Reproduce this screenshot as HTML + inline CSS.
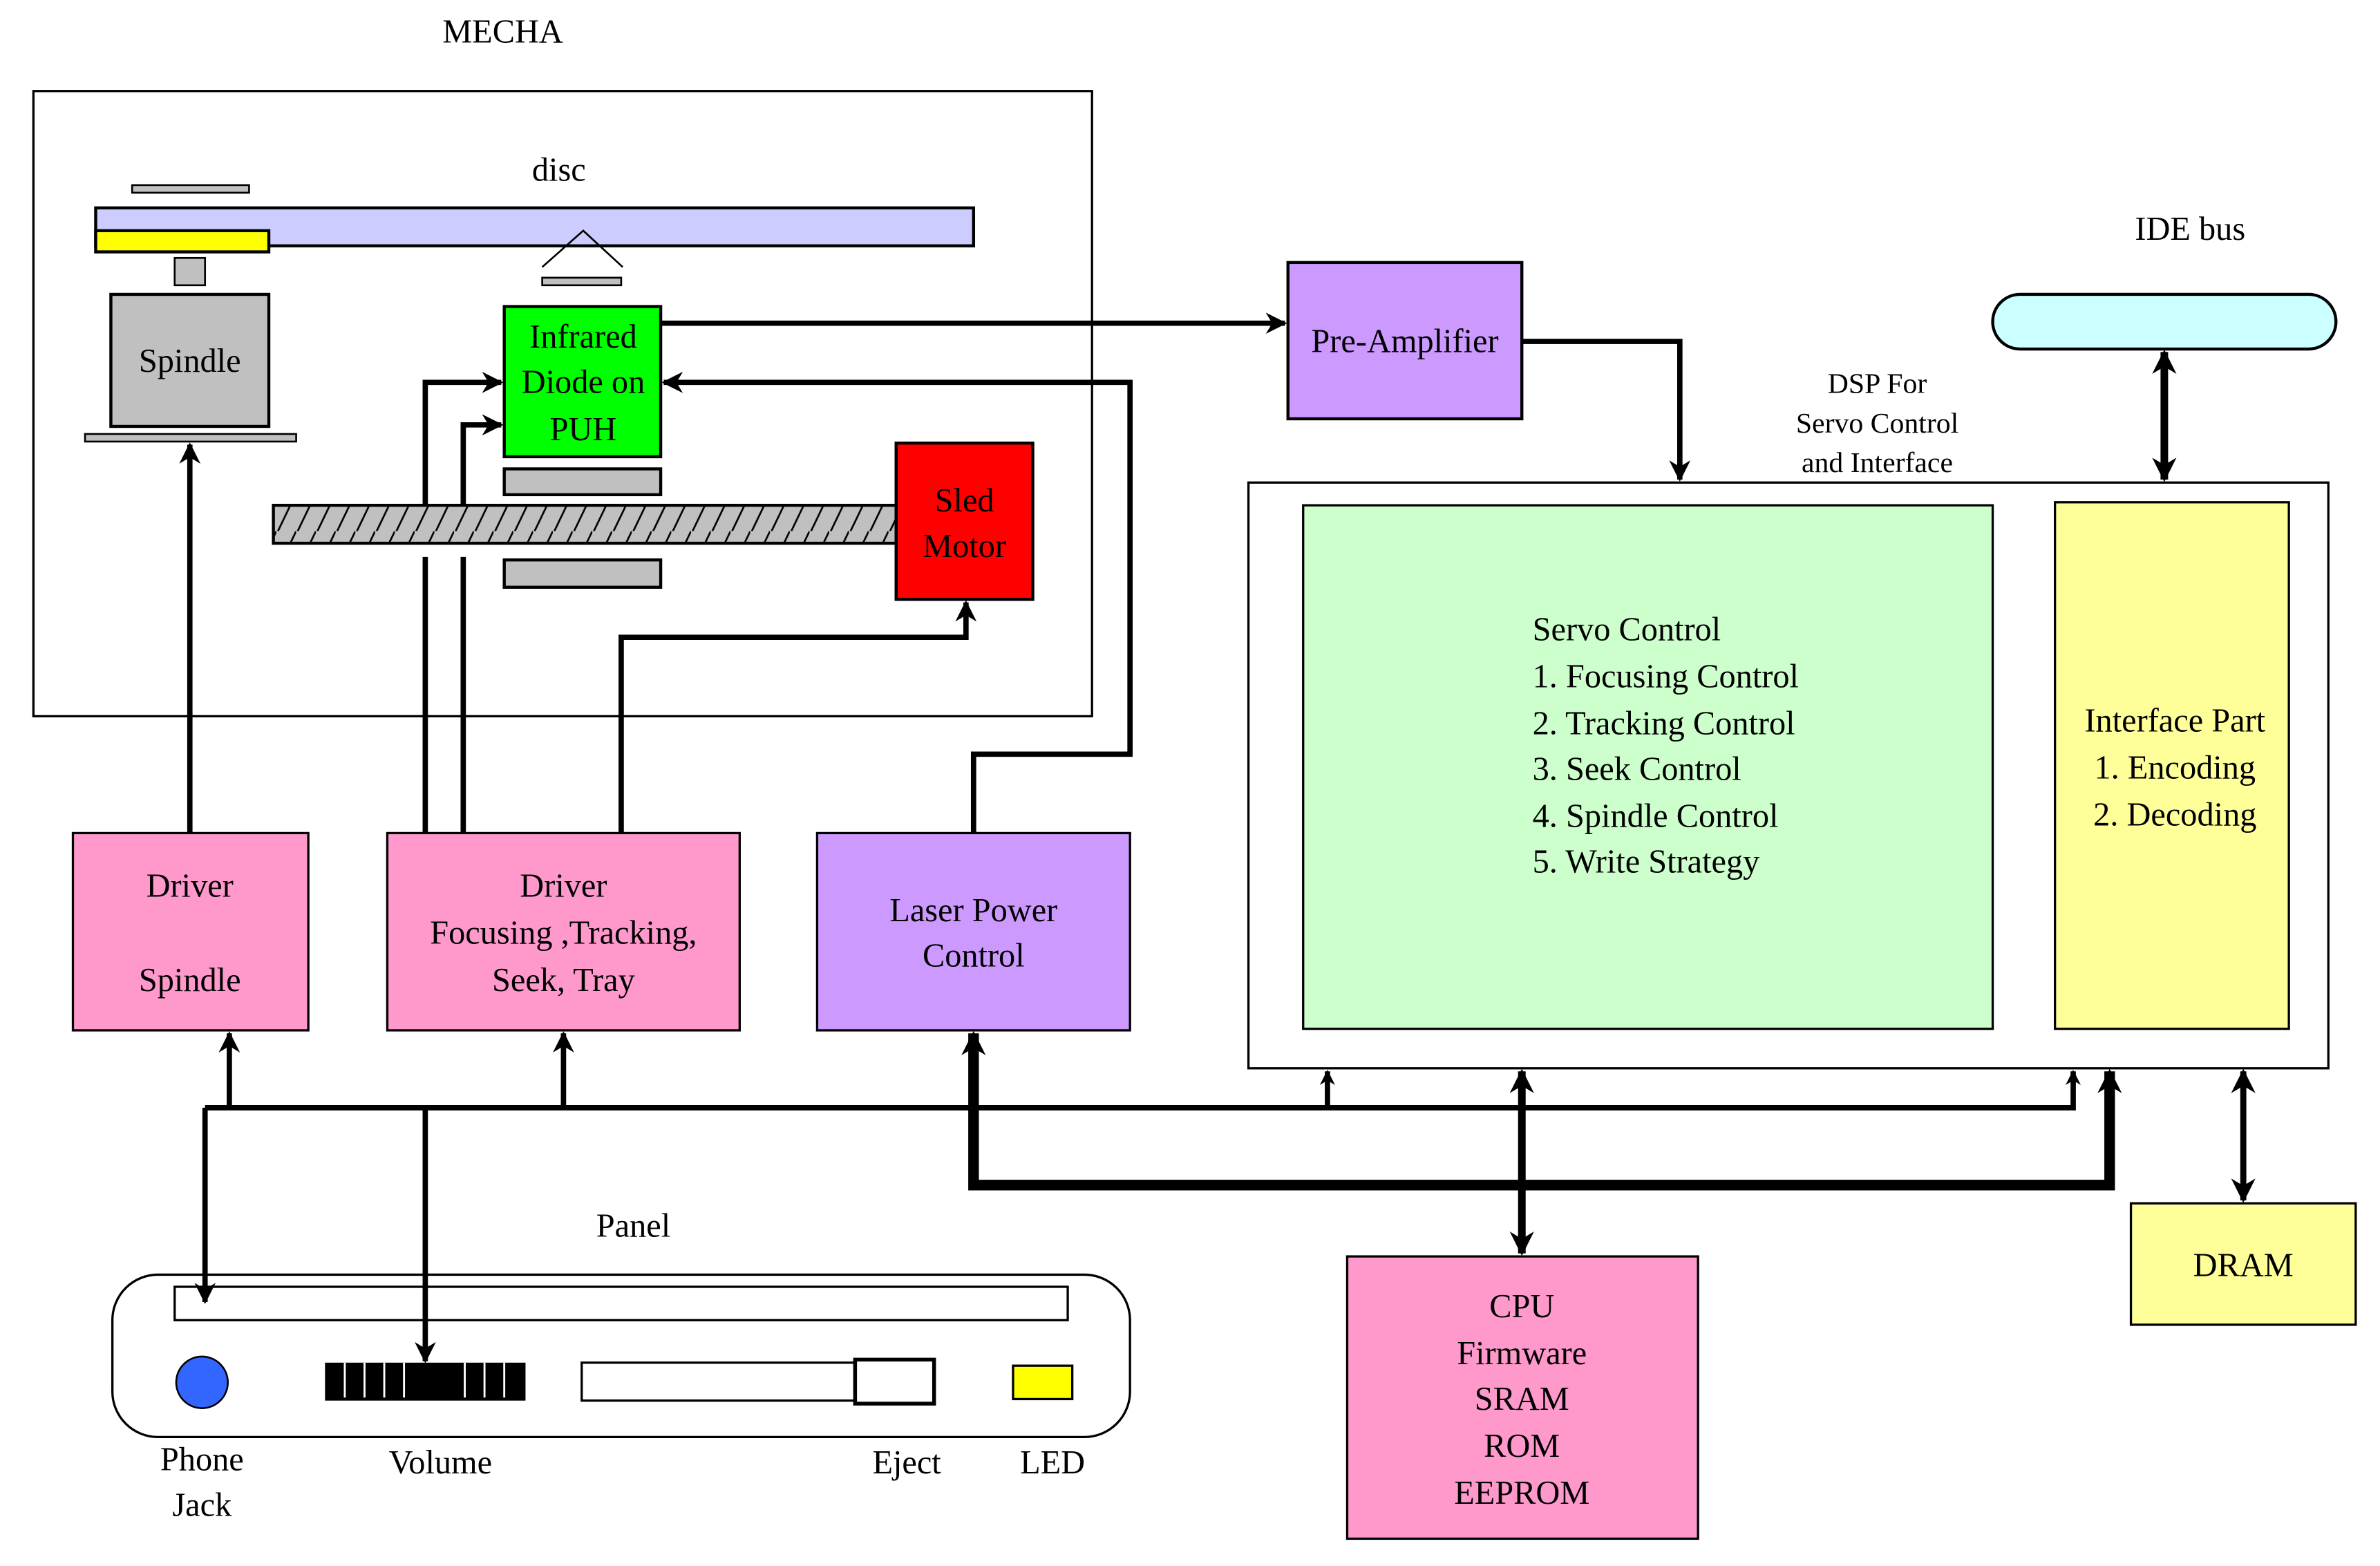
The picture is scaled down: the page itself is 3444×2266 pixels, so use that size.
<!DOCTYPE html>
<html><head><meta charset="utf-8"><style>html,body{margin:0;padding:0;background:#fff}svg{display:block}</style></head>
<body>
<svg width="3444" height="2266" viewBox="0 0 1567 1032" preserveAspectRatio="none" xmlns="http://www.w3.org/2000/svg" font-family="Liberation Serif, serif" font-size="22" text-anchor="middle">
<defs>
<marker id="a" markerWidth="10" markerHeight="12" refX="9" refY="5" orient="auto" markerUnits="userSpaceOnUse"><path d="M0,0 L10,5 L0,10 L3,5 Z" fill="#000"/></marker>
<marker id="as" viewBox="0 0 10 10" markerWidth="22" markerHeight="14" refX="9" refY="5" orient="auto-start-reverse" markerUnits="userSpaceOnUse"><path d="M0,0 L10,5 L0,10 L3,5 Z" fill="#000"/></marker>
<marker id="ab" viewBox="0 0 10 10" markerWidth="26" markerHeight="16" refX="9" refY="5" orient="auto-start-reverse" markerUnits="userSpaceOnUse"><path d="M0,0 L10,5 L0,10 L3,5 Z" fill="#000"/></marker>
<pattern id="h" width="13" height="25" patternUnits="userSpaceOnUse"><rect width="13" height="25" fill="#c0c0c0"/><line x1="13" y1="0" x2="1" y2="25" stroke="#000" stroke-width="1.2"/></pattern>
</defs>
<g stroke="#000" stroke-width="2">
<text x="331" y="28" stroke="none">MECHA</text>
<rect x="22" y="60" width="697" height="412" fill="none" stroke-width="1.5"/>
<text x="368" y="119" stroke="none">disc</text>
<rect x="87" y="122" width="77" height="5" fill="#c0c0c0" stroke-width="1.2"/>
<rect x="63" y="137" width="578" height="25" fill="#ccccff"/>
<rect x="63" y="152" width="114" height="14" fill="#ffff00"/>
<rect x="115" y="170" width="20" height="18" fill="#c0c0c0" stroke-width="1.2"/>
<rect x="73" y="194" width="104" height="87" fill="#c0c0c0"/>
<text x="125" y="245" stroke="none">Spindle</text>
<rect x="56" y="286" width="139" height="5" fill="#c0c0c0" stroke-width="1.2"/>
<polyline points="357,176 384,152 410,176" fill="none" stroke-width="1.2"/>
<rect x="357" y="183" width="52" height="5" fill="#c0c0c0" stroke-width="1.2"/>
<rect x="332" y="202" width="103" height="99" fill="#00ff00"/>
<text x="384" y="229" stroke="none">Infrared</text>
<text x="384" y="259" stroke="none">Diode on</text>
<text x="384" y="290" stroke="none">PUH</text>
<rect x="332" y="309" width="103" height="17" fill="#c0c0c0"/>
<rect x="332" y="369" width="103" height="18" fill="#c0c0c0"/>
<rect x="180" y="333" width="410" height="25" fill="url(#h)"/>
<rect x="590" y="292" width="90" height="103" fill="#ff0000"/>
<text x="635" y="337" stroke="none">Sled</text>
<text x="635" y="367" stroke="none">Motor</text>
<g stroke-width="3.5" fill="none">
<polyline points="280,549 280,367"/><polyline points="280,333 280,252 330,252" marker-end="url(#as)"/>
<polyline points="305,549 305,367"/><polyline points="305,333 305,280 330,280" marker-end="url(#as)"/>
<polyline points="409,549 409,420 636,420 636,397" marker-end="url(#as)"/>
<polyline points="435,213 846,213" marker-end="url(#as)"/>
<polyline points="641,549 641,497 744,497 744,252 437,252" marker-end="url(#as)"/>
<polyline points="125,549 125,293" marker-end="url(#as)"/>
<polyline points="1002,225 1106,225 1106,316" marker-end="url(#as)"/>
</g>
<rect x="848" y="173" width="154" height="103" fill="#cc99ff"/>
<text x="925" y="232" stroke="none">Pre-Amplifier</text>
<text x="1442" y="158" stroke="none">IDE bus</text>
<rect x="1312" y="194" width="226" height="36" rx="18" fill="#ccffff"/>
<line x1="1425" y1="232" x2="1425" y2="316" stroke-width="5" marker-start="url(#ab)" marker-end="url(#ab)"/>
<g font-size="19" stroke="none"><text x="1236" y="259">DSP For</text><text x="1236" y="285">Servo Control</text><text x="1236" y="311">and Interface</text></g>
<rect x="822" y="318" width="711" height="386" fill="#fff" stroke-width="1.5"/>
<rect x="858" y="333" width="454" height="345" fill="#ccffcc" stroke-width="1.5"/>
<g text-anchor="start" stroke="none"><text x="1009" y="422">Servo Control</text><text x="1009" y="453">1. Focusing Control</text><text x="1009" y="484">2. Tracking Control</text><text x="1009" y="514">3. Seek Control</text><text x="1009" y="545">4. Spindle Control</text><text x="1009" y="575">5. Write Strategy</text></g>
<rect x="1353" y="331" width="154" height="347" fill="#ffff99" stroke-width="1.5"/>
<g stroke="none"><text x="1432" y="482">Interface Part</text><text x="1432" y="513">1. Encoding</text><text x="1432" y="544">2. Decoding</text></g>
<rect x="48" y="549" width="155" height="130" fill="#ff99cc" stroke-width="1.5"/>
<text x="125" y="591" stroke="none">Driver</text><text x="125" y="653" stroke="none">Spindle</text>
<rect x="255" y="549" width="232" height="130" fill="#ff99cc" stroke-width="1.5"/>
<text x="371" y="591" stroke="none">Driver</text><text x="371" y="622" stroke="none">Focusing ,Tracking,</text><text x="371" y="653" stroke="none">Seek, Tray</text>
<rect x="538" y="549" width="206" height="130" fill="#cc99ff" stroke-width="1.5"/>
<text x="641" y="607" stroke="none">Laser Power</text><text x="641" y="637" stroke="none">Control</text>
<g fill="none" stroke-width="3.5">
<polyline points="135,730 1365,730 1365,706" marker-end="url(#a)"/>
<line x1="151" y1="730" x2="151" y2="681" marker-end="url(#as)"/>
<line x1="371" y1="730" x2="371" y2="681" marker-end="url(#as)"/>
<line x1="874" y1="730" x2="874" y2="706" marker-end="url(#a)"/>
<polyline points="641,681 641,781 1389,781 1389,706" stroke-width="7" marker-start="url(#ab)" marker-end="url(#ab)"/>
<line x1="1002" y1="706" x2="1002" y2="826" stroke-width="5" marker-start="url(#ab)" marker-end="url(#ab)"/>
<line x1="1477" y1="706" x2="1477" y2="791" stroke-width="4" marker-start="url(#ab)" marker-end="url(#ab)"/>
</g>
<rect x="887" y="828" width="231" height="186" fill="#ff99cc" stroke-width="1.5"/>
<g stroke="none"><text x="1002" y="868">CPU</text><text x="1002" y="899">Firmware</text><text x="1002" y="929">SRAM</text><text x="1002" y="960">ROM</text><text x="1002" y="991">EEPROM</text></g>
<rect x="1403" y="793" width="148" height="80" fill="#ffff99" stroke-width="1.5"/>
<text x="1477" y="841" stroke="none">DRAM</text>
<text x="417" y="815" stroke="none">Panel</text>
<rect x="74" y="840" width="670" height="107" rx="30" fill="none" stroke-width="1.5"/>
<rect x="115" y="848" width="588" height="22" fill="none" stroke-width="1.5"/>
<line x1="135" y1="730" x2="135" y2="858" stroke-width="3.5" marker-end="url(#as)"/>
<ellipse cx="133" cy="911" rx="17" ry="17" fill="#3366ff" stroke-width="1.2"/>
<rect x="214" y="898" width="132" height="25" fill="#000" stroke="none"/>
<g stroke="#fff" stroke-width="1.3"><line x1="227" y1="898" x2="227" y2="921"/><line x1="240" y1="898" x2="240" y2="921"/><line x1="253" y1="898" x2="253" y2="921"/><line x1="266" y1="898" x2="266" y2="921"/><line x1="306" y1="898" x2="306" y2="921"/><line x1="319" y1="898" x2="319" y2="921"/><line x1="332" y1="898" x2="332" y2="921"/></g>
<line x1="280" y1="730" x2="280" y2="897" stroke-width="3.5" marker-end="url(#as)"/>
<rect x="383" y="898" width="180" height="25" fill="none" stroke-width="1.5"/>
<rect x="563" y="896" width="52" height="29" fill="none" stroke-width="2.5"/>
<rect x="667" y="900" width="39" height="22" fill="#ffff00" stroke-width="1.5"/>
<g stroke="none"><text x="133" y="969">Phone</text><text x="133" y="999">Jack</text><text x="290" y="971">Volume</text><text x="597" y="971">Eject</text><text x="693" y="971">LED</text></g>
</g>
</svg>
</body></html>
